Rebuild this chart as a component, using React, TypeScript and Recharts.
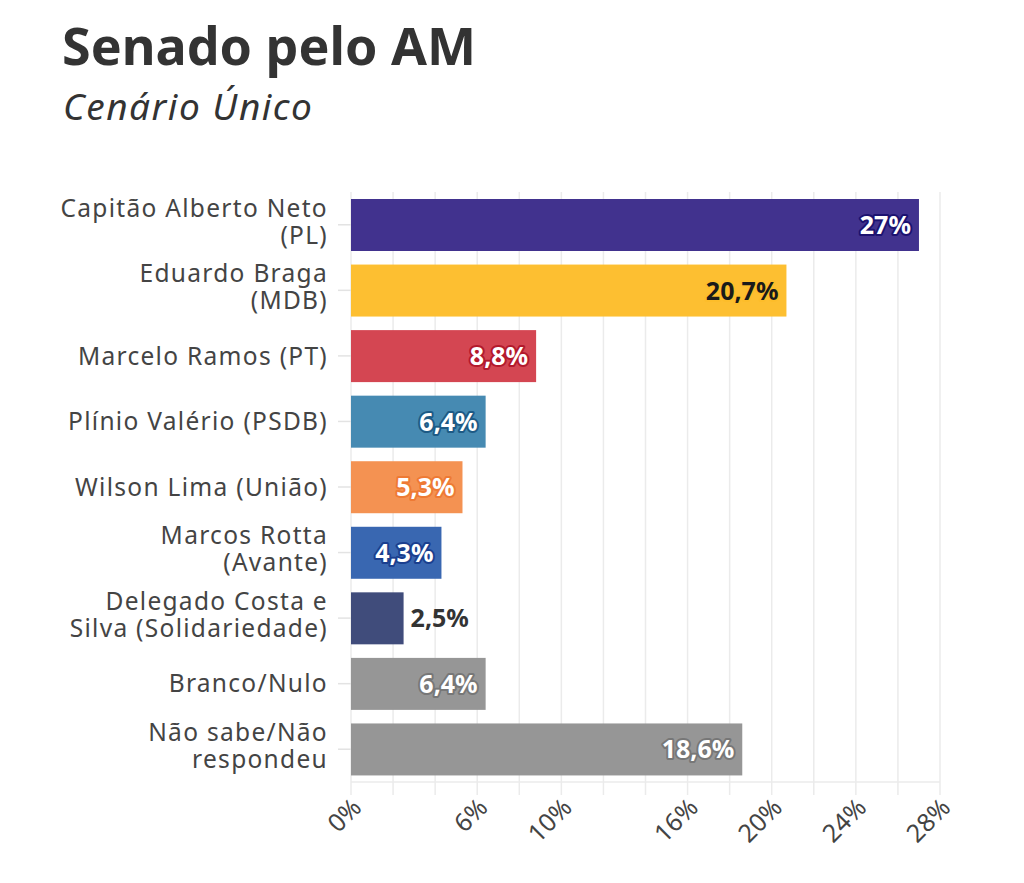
import React from 'react'
import { BarChart, Bar, XAxis, YAxis, CartesianGrid } from 'recharts'

// Senado pelo AM – Cenário Único
const categories = [
  'Capitão Alberto Neto\n(PL)',
  'Eduardo Braga\n(MDB)',
  'Marcelo Ramos (PT)',
  'Plínio Valério (PSDB)',
  'Wilson Lima (União)',
  'Marcos Rotta\n(Avante)',
  'Delegado Costa e\nSilva (Solidariedade)',
  'Branco/Nulo',
  'Não sabe/Não\nrespondeu',
]
const values = [27, 20.7, 8.8, 6.4, 5.3, 4.3, 2.5, 6.4, 18.6]

const gridTicks = [0, 2, 4, 6, 8, 10, 12, 14, 16, 18, 20, 22, 24, 26, 28]
const labeledTicks = [0, 6, 10, 16, 20, 24, 28]

const barColors = ['#3B2B8A', '#FDBD2A', '#D3404C', '#4086B0', '#F48E4C', '#3362AE', '#3A4677', '#939393', '#939393']
const labelInk = ['#ffffff', '#1a1a1a', '#ffffff', '#ffffff', '#ffffff', '#ffffff', '#333333', '#ffffff', '#ffffff']
const labelHalo = ['#1c1270', '#FDBD2A', '#b3192c', '#1d5a85', '#ee7a34', '#1a3f8f', 'none', '#777777', '#777777']

const data = categories.map((name, i) => ({ name, value: values[i] }))

const FONT = '"Noto Sans", sans-serif'
const GRID = '#ebebeb'

const fmt = (v: number) => String(v).replace('.', ',') + '%'

function CategoryTick({ x, y, payload }: any) {
  const lines = String(payload.value).split('\n')
  const offsets = lines.length > 1 ? [-17, 10] : [0]
  return (
    <text x={x} y={y} textAnchor="end" fill="#444" fontSize={24.5} letterSpacing={1.3} fontFamily={FONT}>
      {lines.map((line, i) => (
        <tspan key={i} x={x} y={y + offsets[i]} dy="0.36em">
          {line}
        </tspan>
      ))}
    </text>
  )
}

function PercentTick({ x, y, payload }: any) {
  if (!labeledTicks.includes(payload.value)) return null
  return (
    <text
      transform={`translate(${x + 12},${y + 14}) rotate(-45)`}
      textAnchor="end"
      fill="#444"
      fontSize={25}
      fontFamily={FONT}
    >
      {payload.value}%
    </text>
  )
}

function LabelledBar(props: any) {
  const { x, y, width, height, payload } = props
  const i = props.index ?? categories.indexOf(payload.name)
  const v = payload.value
  const inside = v >= 3
  const cy = y + height / 2
  return (
    <g>
      <rect x={x} y={y} width={width} height={height} fill={barColors[i]} fillOpacity={0.97} />
      <text
        x={inside ? x + width - 8 : x + width + 7}
        y={cy}
        dy="0.36em"
        textAnchor={inside ? 'end' : 'start'}
        fill={labelInk[i]}
        stroke={labelHalo[i]}
        strokeWidth={inside ? 4 : 0}
        strokeLinejoin="round"
        paintOrder="stroke"
        fontSize={25}
        fontWeight={700}
        fontFamily={FONT}
      >
        {fmt(v)}
      </text>
    </g>
  )
}

export default function App() {
  return (
    <div style={{ position: 'relative', width: 1008, height: 867, background: '#fff', fontFamily: FONT }}>
      <div
        style={{
          position: 'absolute',
          left: 54,
          top: 11,
          fontSize: 52,
          lineHeight: '52px',
          fontWeight: 700,
          color: '#333',
          whiteSpace: 'nowrap',
        }}
      >
        Senado pelo AM
      </div>
      <div
        style={{
          position: 'absolute',
          left: 55,
          top: 79,
          fontSize: 37,
          lineHeight: '37px',
          fontStyle: 'italic',
          letterSpacing: 1.5,
          color: '#333',
          whiteSpace: 'nowrap',
        }}
      >
        Cenário Único
      </div>
      <div style={{ position: 'absolute', left: 0, top: 0 }}>
        <BarChart
          width={1000}
          height={860}
          data={data}
          layout="vertical"
          margin={{ top: 184, right: 68, bottom: 6, left: 0 }}
        >
          <CartesianGrid horizontal={false} stroke={GRID} strokeWidth={1.5} />
          <XAxis
            type="number"
            domain={[0, 28]}
            ticks={gridTicks}
            interval={0}
            height={80}
            tickSize={13}
            tickMargin={0}
            axisLine={{ stroke: GRID, strokeWidth: 1.5 }}
            tickLine={{ stroke: GRID, strokeWidth: 1.5 }}
            tick={<PercentTick />}
          />
          <YAxis
            type="category"
            dataKey="name"
            width={343}
            tickSize={13}
            tickMargin={10}
            interval={0}
            axisLine={false}
            tickLine={{ stroke: '#e3e3e3', strokeWidth: 1.5 }}
            tick={<CategoryTick />}
          />
          <Bar dataKey="value" barSize={52} shape={<LabelledBar />} isAnimationActive={false} />
        </BarChart>
      </div>
    </div>
  )
}
